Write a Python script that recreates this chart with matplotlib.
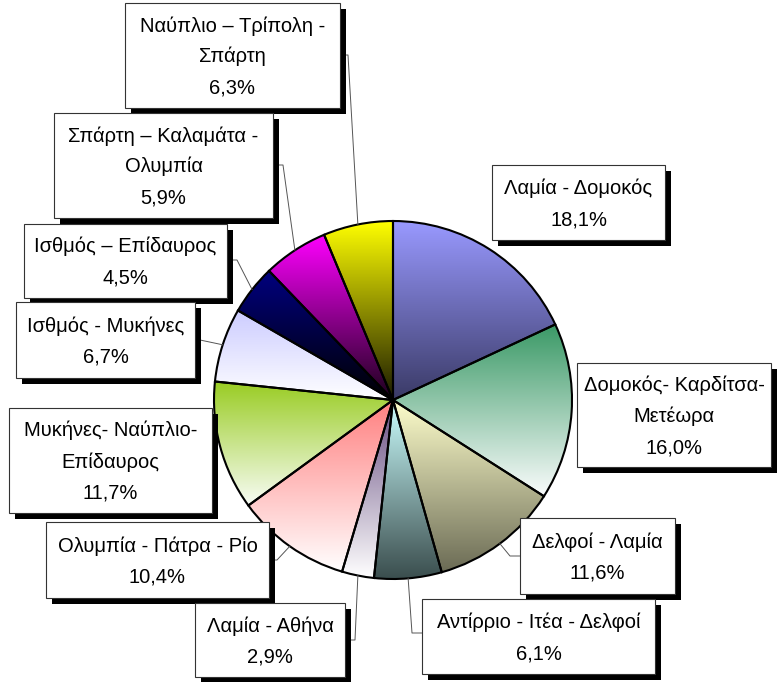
import numpy as np
import matplotlib
matplotlib.use('Agg')
import matplotlib.pyplot as plt
from matplotlib.colors import to_rgb
from matplotlib.patches import Rectangle

W, H = 781, 682

# διαδρομές και ποσοστά (δεξιόστροφα από πάνω)
routes = [
    "Λαμία - Δομοκός",
    "Δομοκός- Καρδίτσα-\nΜετέωρα",
    "Δελφοί - Λαμία",
    "Αντίρριο - Ιτέα - Δελφοί",
    "Λαμία - Αθήνα",
    "Ολυμπία - Πάτρα - Ρίο",
    "Μυκήνες- Ναύπλιο-\nΕπίδαυρος",
    "Ισθμός - Μυκήνες",
    "Ισθμός – Επίδαυρος",
    "Σπάρτη – Καλαμάτα -\nΟλυμπία",
    "Ναύπλιο – Τρίπολη -\nΣπάρτη",
]
shares = [18.1, 16.0, 11.6, 6.1, 2.9, 10.4, 11.7, 6.7, 4.5, 5.9, 6.3]

# χρώματα διαβάθμισης (πάνω -> κάτω)
top_colors = ['#9999FF', '#3A9966', '#FFFFCC', '#CCFFFF', '#664C80', '#FF8080',
              '#99CC22', '#CCCCFF', '#000080', '#FF00FF', '#FFFF00']
bottom_colors = ['#3A3A66', '#FAFCFC', '#6B6B55', '#3A4D4D', '#FFFFFF', '#FFFFFF',
                 '#F8FCF5', '#FFFFFF', '#000000', '#1A001A', '#1A1A00']

# θέσεις πλαισίων σε pixel (x0, y0, x1, y1), αρχή πάνω αριστερά
boxes = [
    (492, 165, 665, 240),
    (577, 363, 771, 467),
    (520, 518, 675, 594),
    (422, 599, 655, 674),
    (195, 603, 345, 677),
    (46, 522, 269, 598),
    (9, 408, 212, 513),
    (16, 302, 195, 378),
    (24, 224, 227, 298),
    (54, 113, 273, 218),
    (125, 3, 340, 108),
]
# γραμμές οδηγοί: (x αρχής, y, x γωνίας) ή None
leaders = [None, None, (520, 556, 510), (422, 633, 412), (345, 640, 355),
           (269, 560, 277), None, (195, 340, 200), (227, 260, 237),
           (273, 165, 283), (340, 55, 348)]

plt.rcParams['font.family'] = ['Liberation Sans', 'DejaVu Sans']

fig = plt.figure(figsize=(W / 100, H / 100), dpi=100)
ax = fig.add_axes([0, 0, 1, 1])

cx, cy, R = 393, H - 400, 179
wedges, _ = ax.pie(shares, center=(cx, cy), radius=R, startangle=90,
                   counterclock=False, frame=True,
                   wedgeprops=dict(facecolor='none', edgecolor='black', linewidth=1.5))

# κάθετη διαβάθμιση σε κάθε κομμάτι
t = np.linspace(0, 1, 256)[:, None]
for w, c0, c1 in zip(wedges, top_colors, bottom_colors):
    bb = w.get_path().get_extents()
    grad = (1 - t) * np.array(to_rgb(c0)) + t * np.array(to_rgb(c1))
    im = ax.imshow(grad[:, None, :], extent=(bb.x0, bb.x1, bb.y0, bb.y1),
                   origin='upper', aspect='auto', interpolation='bilinear', zorder=1)
    im.set_clip_path(w)
    w.set_zorder(2)

# γραμμές οδηγοί
for w, ld in zip(wedges, leaders):
    if ld is None:
        continue
    sx, sy, ex = ld
    a = np.deg2rad((w.theta1 + w.theta2) / 2)
    px, py = cx + R * np.cos(a), cy + R * np.sin(a)
    ax.plot([sx, ex, px], [H - sy, H - sy, py], color='#555555', lw=0.7, zorder=3)

# ετικέτες με σκιά
for (x0, y0, x1, y1), route, share in zip(boxes, routes, shares):
    ax.add_patch(Rectangle((x0 + 6, H - y1 - 6), x1 - x0, y1 - y0,
                           fc='black', ec='none', zorder=4))
    ax.add_patch(Rectangle((x0, H - y1), x1 - x0, y1 - y0,
                           fc='white', ec='#333333', lw=0.8, zorder=5))
    lines = route.split('\n') + [f'{share:.1f}'.replace('.', ',') + '%']
    mid = (y0 + y1) / 2
    for k, line in enumerate(lines):
        yc = mid + (k - (len(lines) - 1) / 2) * 31
        ax.text((x0 + x1) / 2, H - yc - 7, line, ha='center', va='baseline',
                fontsize=14.5, color='black', zorder=6)

ax.set_xlim(0, W)
ax.set_ylim(0, H)
ax.set_aspect('equal')
ax.axis('off')

fig.savefig('out.png', dpi=100)
